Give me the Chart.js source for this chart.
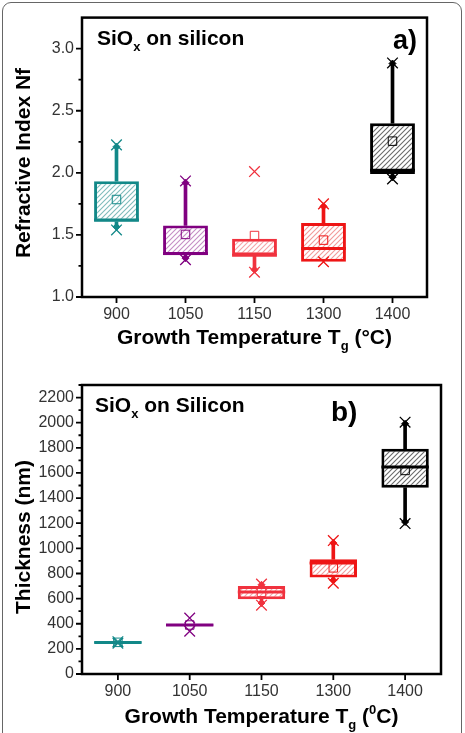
<!DOCTYPE html>
<html><head><meta charset="utf-8">
<script src="https://cdn.jsdelivr.net/npm/chart.js@4.4.1/dist/chart.umd.min.js"></script>
<style>
html,body{margin:0;padding:0;background:#fff;width:465px;height:733px;overflow:hidden;}
#c1{position:absolute;left:0;top:0;}
#c2{position:absolute;left:0;top:366px;}
#frame{position:absolute;left:2px;top:2px;width:460px;height:750px;border:1.5px solid #666;border-radius:9px;box-sizing:border-box;pointer-events:none;}
</style></head><body>
<canvas id="c1" width="465" height="366"></canvas>
<canvas id="c2" width="465" height="367"></canvas>
<div id="frame"></div>
<script>
// ---------- shared categories / colours ----------
const categories = ['900', '1050', '1150', '1300', '1400'];
const seriesColors = ['#128888', '#800080', '#f0323e', '#ee1515', '#000000'];
const hatchLineColors = ['#7fbcbc', '#c58ec5', '#f5a3a8', '#f29a9a', '#6a6a6a'];

// ---------- panel a) refractive index ----------
const nfQ1      = [1.605, 1.337, 1.337, 1.284, 1.99];
const nfQ3      = [1.932, 1.576, 1.470, 1.595, 2.40];
const nfMedian  = [1.62, 1.35, 1.337, 1.39, 2.02];
const nfMean    = [1.785, 1.504, 1.495, 1.458, 2.255];
const nfWhiskLo = [1.565, 1.313, 1.22, null, 1.965];
const nfWhiskHi = [2.21, 1.92, null, 1.73, 2.88];
const nfMarkMin = [1.54, 1.30, 1.20, 1.284, 1.95];
const nfMarkMax = [2.225, 1.935, 2.01, 1.75, 2.885];
const nfTicks   = [1.0, 1.5, 2.0, 2.5, 3.0];
const nfMinor   = [1.25, 1.75, 2.25, 2.75];

// ---------- panel b) thickness ----------
const thQ1      = [244, 383, 595, 768, 1483];
const thQ3      = [258, 397, 700, 913, 1793];
const thMedian  = [251, 390, 652, 884, 1647];
const thMean    = [252, 390, 650, 845, 1620];
const thWhiskLo = [null, null, 565, 746, 1210];
const thWhiskHi = [null, null, 710, 1043, 1991];
const thMarkMin = [245, 340, 548, 722, 1197];
const thMarkMax = [257, 445, 716, 1062, 2004];
const thTicks   = [0, 200, 400, 600, 800, 1000, 1200, 1400, 1600, 1800, 2000, 2200];
const thMinor   = [100, 300, 500, 700, 900, 1100, 1300, 1500, 1700, 1900, 2100, 2300];

const FONT = '"Liberation Sans", Arial, Helvetica, sans-serif';

function hatch(line, size) {
  const c = document.createElement('canvas');
  c.width = c.height = size;
  const g = c.getContext('2d');
  g.fillStyle = '#ffffff';
  g.fillRect(0, 0, size, size);
  g.strokeStyle = line;
  g.lineWidth = 1.1;
  g.beginPath();
  g.moveTo(0, size); g.lineTo(size, 0);
  g.moveTo(-size / 2, size / 2); g.lineTo(size / 2, -size / 2);
  g.moveTo(size / 2, size * 1.5); g.lineTo(size * 1.5, size / 2);
  g.stroke();
  return g.createPattern(c, 'repeat');
}

function richText(ctx, parts, x, y, size) {
  let cx = x;
  for (const p of parts) {
    const fs = (p.sub || p.sup) ? size * 0.62 : size;
    ctx.font = `bold ${fs}px ${FONT}`;
    const dy = p.sub ? size * 0.30 : (p.sup ? -size * 0.42 : 0);
    ctx.fillText(p.t, cx, y + dy);
    cx += ctx.measureText(p.t).width;
  }
  return cx - x;
}
function richWidth(ctx, parts, size) {
  let w = 0;
  for (const p of parts) {
    const fs = (p.sub || p.sup) ? size * 0.62 : size;
    ctx.font = `bold ${fs}px ${FONT}`;
    w += ctx.measureText(p.t).width;
  }
  return w;
}

const panelPlugin = {
  id: 'panel',
  afterDatasetsDraw(chart, args, o) {
    const ctx = chart.ctx;
    const ys = chart.scales.y;
    // median lines inside boxes
    const boxMeta = chart.getDatasetMeta(2);
    ctx.save();
    boxMeta.data.forEach((el, i) => {
      const m = o.median[i];
      if (m == null) return;
      const y = ys.getPixelForValue(m);
      ctx.strokeStyle = seriesColors[i];
      ctx.lineWidth = 3;
      ctx.beginPath();
      ctx.moveTo(el.x - el.width / 2, y);
      ctx.lineTo(el.x + el.width / 2, y);
      ctx.stroke();
    });
    ctx.restore();
  },
  afterDraw(chart, args, o) {
    const ctx = chart.ctx;
    const a = chart.chartArea;
    const ys = chart.scales.y, xs = chart.scales.x;
    ctx.save();
    // frame
    ctx.strokeStyle = '#000';
    ctx.lineWidth = 2.5;
    ctx.strokeRect(a.left, a.top, a.right - a.left, a.bottom - a.top);
    // ticks
    ctx.lineWidth = 1.8;
    ctx.beginPath();
    o.major.forEach(v => { const y = ys.getPixelForValue(v); ctx.moveTo(a.left, y); ctx.lineTo(a.left - 6, y); });
    o.minor.forEach(v => { const y = ys.getPixelForValue(v); ctx.moveTo(a.left, y); ctx.lineTo(a.left - 3.5, y); });
    categories.forEach((c, i) => { const x = xs.getPixelForValue(i); ctx.moveTo(x, a.bottom); ctx.lineTo(x, a.bottom + 6); });
    ctx.stroke();
    // texts
    ctx.fillStyle = '#000';
    ctx.textBaseline = 'alphabetic';
    ctx.textAlign = 'left';
    richText(ctx, o.label, o.labelX, o.labelY, 21);
    ctx.font = `bold ${o.tagSize}px ${FONT}`;
    ctx.fillText(o.tag, o.tagX, o.tagY);
    // x title centred on plot
    const w = richWidth(ctx, o.xTitle, 21);
    richText(ctx, o.xTitle, (a.left + a.right) / 2 - w / 2, o.xTitleY, 21);
    // y title
    ctx.translate(o.yTitleX, o.yTitleY);
    ctx.rotate(-Math.PI / 2);
    ctx.textAlign = 'center';
    ctx.textBaseline = 'middle';
    ctx.font = `bold 21px ${FONT}`;
    ctx.fillText(o.yTitle, 0, 0);
    ctx.restore();
  }
};

function makeBoxChart(canvas, d) {
  const patterns = hatchLineColors.map(c => hatch(c, 5));
  return new Chart(canvas, {
    type: 'bar',
    data: {
      labels: categories,
      datasets: [
        { type: 'bar', data: d.q3.map((v, i) => d.whiskHi[i] == null ? null : [v, d.whiskHi[i]]),
          backgroundColor: seriesColors, borderWidth: 0, barThickness: 3, grouped: false, order: 6 },
        { type: 'bar', data: d.q1.map((v, i) => d.whiskLo[i] == null ? null : [d.whiskLo[i], v]),
          backgroundColor: seriesColors, borderWidth: 0, barThickness: 3, grouped: false, order: 6 },
        { type: 'bar', data: d.q1.map((v, i) => [v, d.q3[i]]),
          backgroundColor: patterns, borderColor: seriesColors, borderWidth: 3, borderSkipped: false,
          barPercentage: d.boxPct, categoryPercentage: 1, grouped: false, order: 5 },
        { type: 'line', data: d.mean, showLine: false, pointStyle: 'rect', pointRadius: 6,
          pointBorderWidth: 1, pointBorderColor: seriesColors, pointBackgroundColor: 'rgba(0,0,0,0)', order: 3 },
        { type: 'line', data: d.markMax, showLine: false, pointStyle: 'crossRot', pointRadius: 7.5,
          pointBorderWidth: 1.3, pointBorderColor: seriesColors, order: 2 },
        { type: 'line', data: d.markMin, showLine: false, pointStyle: 'crossRot', pointRadius: 7.5,
          pointBorderWidth: 1.3, pointBorderColor: seriesColors, order: 2 },
        { type: 'line', data: d.whiskHi, showLine: false, pointStyle: 'rectRot', pointRadius: 3.5,
          pointBorderWidth: 1, pointBorderColor: seriesColors, pointBackgroundColor: seriesColors, order: 1 },
        { type: 'line', data: d.whiskLo, showLine: false, pointStyle: 'rectRot', pointRadius: 3.5,
          pointBorderWidth: 1, pointBorderColor: seriesColors, pointBackgroundColor: seriesColors, order: 1 }
      ]
    },
    options: {
      responsive: false,
      animation: false,
      devicePixelRatio: 1,
      layout: { padding: { left: 0, top: d.padTop, right: d.padRight, bottom: 0 } },
      plugins: {
        legend: { display: false },
        tooltip: { enabled: false },
        panel: {
          median: d.median, major: d.ticks, minor: d.minor,
          label: d.label, labelX: d.labelX, labelY: d.labelY,
          tag: d.tag, tagX: d.tagX, tagY: d.tagY, tagSize: d.tagSize,
          xTitle: d.xTitle, xTitleY: d.xTitleY,
          yTitle: d.yTitle, yTitleX: d.yTitleX, yTitleY: d.yTitleY
        }
      },
      scales: {
        x: {
          type: 'category', offset: true,
          grid: { display: false, drawTicks: false }, border: { display: false },
          ticks: { color: '#333', font: { family: FONT, size: 16 }, padding: 8, maxRotation: 0, autoSkip: false },
          afterFit(s) { s.height = d.xAxisH; }
        },
        y: {
          type: 'linear', min: d.min, max: d.max,
          grid: { display: false, drawTicks: false }, border: { display: false },
          afterBuildTicks(s) { s.ticks = d.ticks.map(v => ({ value: v })); },
          ticks: { color: '#333', font: { family: FONT, size: 16 }, padding: 8, callback: d.fmt },
          afterFit(s) { s.width = 82; }
        }
      }
    },
    plugins: [panelPlugin]
  });
}

makeBoxChart(document.getElementById('c1'), {
  q1: nfQ1, q3: nfQ3, median: nfMedian, mean: nfMean,
  whiskLo: nfWhiskLo, whiskHi: nfWhiskHi, markMin: nfMarkMin, markMax: nfMarkMax,
  ticks: nfTicks, minor: nfMinor, min: 1.0, max: 3.25, fmt: v => v.toFixed(1),
  boxPct: 0.65, padTop: 17, padRight: 38, xAxisH: 69,
  label: [{ t: 'SiO' }, { t: 'x', sub: true }, { t: ' on silicon' }], labelX: 97, labelY: 45,
  tag: 'a)', tagX: 393, tagY: 49, tagSize: 27,
  xTitle: [{ t: 'Growth Temperature T' }, { t: 'g', sub: true }, { t: ' (°C)' }], xTitleY: 344,
  yTitle: 'Refractive Index Nf', yTitleX: 24, yTitleY: 163
});

makeBoxChart(document.getElementById('c2'), {
  q1: thQ1, q3: thQ3, median: thMedian, mean: thMean,
  whiskLo: thWhiskLo, whiskHi: thWhiskHi, markMin: thMarkMin, markMax: thMarkMax,
  ticks: thTicks, minor: thMinor, min: 0, max: 2300, fmt: v => String(v),
  boxPct: 0.66, padTop: 19, padRight: 24, xAxisH: 59,
  label: [{ t: 'SiO' }, { t: 'x', sub: true }, { t: ' on Silicon' }], labelX: 95, labelY: 46,
  tag: 'b)', tagX: 331, tagY: 55, tagSize: 28,
  xTitle: [{ t: 'Growth Temperature T' }, { t: 'g', sub: true }, { t: ' (' }, { t: '0', sup: true }, { t: 'C)' }], xTitleY: 357,
  yTitle: 'Thickness (nm)', yTitleX: 24, yTitleY: 171
});
</script>
</body></html>
